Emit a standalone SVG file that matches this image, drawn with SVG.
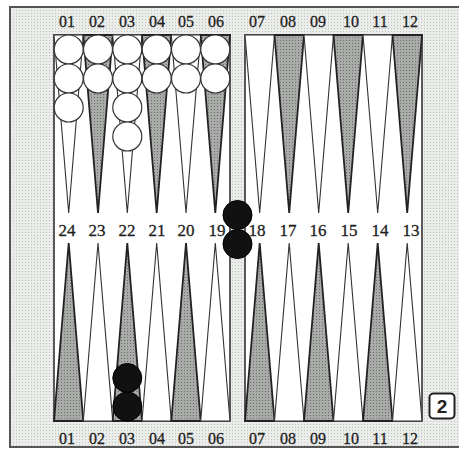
<svg xmlns="http://www.w3.org/2000/svg" width="459" height="450" viewBox="0 0 459 450">
<defs>
<pattern id="stip" width="3" height="3" patternUnits="userSpaceOnUse">
<rect width="3" height="3" fill="#ebedeb"/>
<rect x="1" y="1" width="1" height="1" fill="#bfc2bf"/>
</pattern>
<pattern id="dstip" width="3" height="3" patternUnits="userSpaceOnUse">
<rect width="3" height="3" fill="#a9aba9"/>
<rect x="1" y="1" width="1" height="1" fill="#6a6c6a"/>
</pattern>
<style>
.lbl{font-family:"Liberation Serif","DejaVu Serif",serif;font-size:16px;fill:#1e1e1e;text-anchor:middle;stroke:#1e1e1e;stroke-width:0.3}
.mid{font-size:17px}
.wp{fill:#fff;stroke:#333;stroke-width:1.1}
.gp{fill:url(#dstip);stroke:#222;stroke-width:1.8}
.wc{fill:#fff;stroke:#333;stroke-width:1.2}
.bc{fill:#111;stroke:#000;stroke-width:1}
.quad{fill:#fff;stroke:#333;stroke-width:1.6}
</style>
</defs>
<rect id="frame" x="10" y="7" width="460" height="440" fill="url(#stip)" stroke="#555" stroke-width="2"/>
<g id="board">
<rect class="quad" x="54" y="35" width="176" height="386"/>
<rect class="quad" x="245" y="35" width="177" height="386"/>
</g>
<g id="points">
<polygon class="wp" points="54,35 83.3,35 68.7,213"/>
<polygon class="gp" points="83.3,35 112.7,35 98,213"/>
<polygon class="wp" points="112.7,35 142,35 127.3,213"/>
<polygon class="gp" points="142,35 171.3,35 156.7,213"/>
<polygon class="wp" points="171.3,35 200.7,35 186,213"/>
<polygon class="gp" points="200.7,35 230,35 215.3,213"/>
<polygon class="wp" points="245,35 274.5,35 259.7,213"/>
<polygon class="gp" points="274.5,35 304,35 289.2,213"/>
<polygon class="wp" points="304,35 333.5,35 318.7,213"/>
<polygon class="gp" points="333.5,35 363,35 348.2,213"/>
<polygon class="wp" points="363,35 392.5,35 377.7,213"/>
<polygon class="gp" points="392.5,35 422,35 407.2,213"/>
<polygon class="gp" points="54,421 83.3,421 68.7,243"/>
<polygon class="wp" points="83.3,421 112.7,421 98,243"/>
<polygon class="gp" points="112.7,421 142,421 127.3,243"/>
<polygon class="wp" points="142,421 171.3,421 156.7,243"/>
<polygon class="gp" points="171.3,421 200.7,421 186,243"/>
<polygon class="wp" points="200.7,421 230,421 215.3,243"/>
<polygon class="gp" points="245,421 274.5,421 259.7,243"/>
<polygon class="wp" points="274.5,421 304,421 289.2,243"/>
<polygon class="gp" points="304,421 333.5,421 318.7,243"/>
<polygon class="wp" points="333.5,421 363,421 348.2,243"/>
<polygon class="gp" points="363,421 392.5,421 377.7,243"/>
<polygon class="wp" points="392.5,421 422,421 407.2,243"/>
</g>
<g id="labels-top">
<text class="lbl" x="67" y="27">01</text><text class="lbl" x="97" y="27">02</text><text class="lbl" x="127" y="27">03</text><text class="lbl" x="157" y="27">04</text><text class="lbl" x="186" y="27">05</text><text class="lbl" x="216" y="27">06</text>
<text class="lbl" x="257" y="27">07</text><text class="lbl" x="288" y="27">08</text><text class="lbl" x="318" y="27">09</text><text class="lbl" x="351" y="27">10</text><text class="lbl" x="380" y="27">11</text><text class="lbl" x="410" y="27">12</text>
</g>
<g id="labels-mid">
<text class="lbl mid" x="67" y="236">24</text><text class="lbl mid" x="97" y="236">23</text><text class="lbl mid" x="127" y="236">22</text><text class="lbl mid" x="157" y="236">21</text><text class="lbl mid" x="186" y="236">20</text><text class="lbl mid" x="217" y="236">19</text>
<text class="lbl mid" x="257" y="236">18</text><text class="lbl mid" x="288" y="236">17</text><text class="lbl mid" x="318" y="236">16</text><text class="lbl mid" x="349" y="236">15</text><text class="lbl mid" x="380" y="236">14</text><text class="lbl mid" x="411" y="236">13</text>
</g>
<g id="labels-bottom">
<text class="lbl" x="67" y="444">01</text><text class="lbl" x="97" y="444">02</text><text class="lbl" x="127" y="444">03</text><text class="lbl" x="157" y="444">04</text><text class="lbl" x="186" y="444">05</text><text class="lbl" x="216" y="444">06</text>
<text class="lbl" x="257" y="444">07</text><text class="lbl" x="288" y="444">08</text><text class="lbl" x="318" y="444">09</text><text class="lbl" x="351" y="444">10</text><text class="lbl" x="380" y="444">11</text><text class="lbl" x="410" y="444">12</text>
</g>
<g id="white-checkers">
<circle class="wc" cx="68.7" cy="49.5" r="14.5"/><circle class="wc" cx="68.7" cy="78.5" r="14.5"/><circle class="wc" cx="68.7" cy="107.5" r="14.5"/>
<circle class="wc" cx="98" cy="49.5" r="14.5"/><circle class="wc" cx="98" cy="78.5" r="14.5"/>
<circle class="wc" cx="127.3" cy="49.5" r="14.5"/><circle class="wc" cx="127.3" cy="78.5" r="14.5"/><circle class="wc" cx="127.3" cy="107.5" r="14.5"/><circle class="wc" cx="127.3" cy="136.5" r="14.5"/>
<circle class="wc" cx="156.7" cy="49.5" r="14.5"/><circle class="wc" cx="156.7" cy="78.5" r="14.5"/>
<circle class="wc" cx="186" cy="49.5" r="14.5"/><circle class="wc" cx="186" cy="78.5" r="14.5"/>
<circle class="wc" cx="215.3" cy="49.5" r="14.5"/><circle class="wc" cx="215.3" cy="78.5" r="14.5"/>
</g>
<g id="black-checkers">
<circle class="bc" cx="237.5" cy="215" r="14.5"/><circle class="bc" cx="237.5" cy="244" r="14.5"/>
<circle class="bc" cx="127.3" cy="378" r="14.5"/><circle class="bc" cx="127.3" cy="406.5" r="14.5"/>
</g>
<g id="cube">
<rect x="429.5" y="393.5" width="25" height="25" rx="4" fill="#fff" stroke="#222" stroke-width="2"/>
<text x="442" y="413" font-family="Liberation Sans,Arial,sans-serif" font-weight="bold" font-size="19" fill="#222" text-anchor="middle">2</text>
</g>
</svg>
